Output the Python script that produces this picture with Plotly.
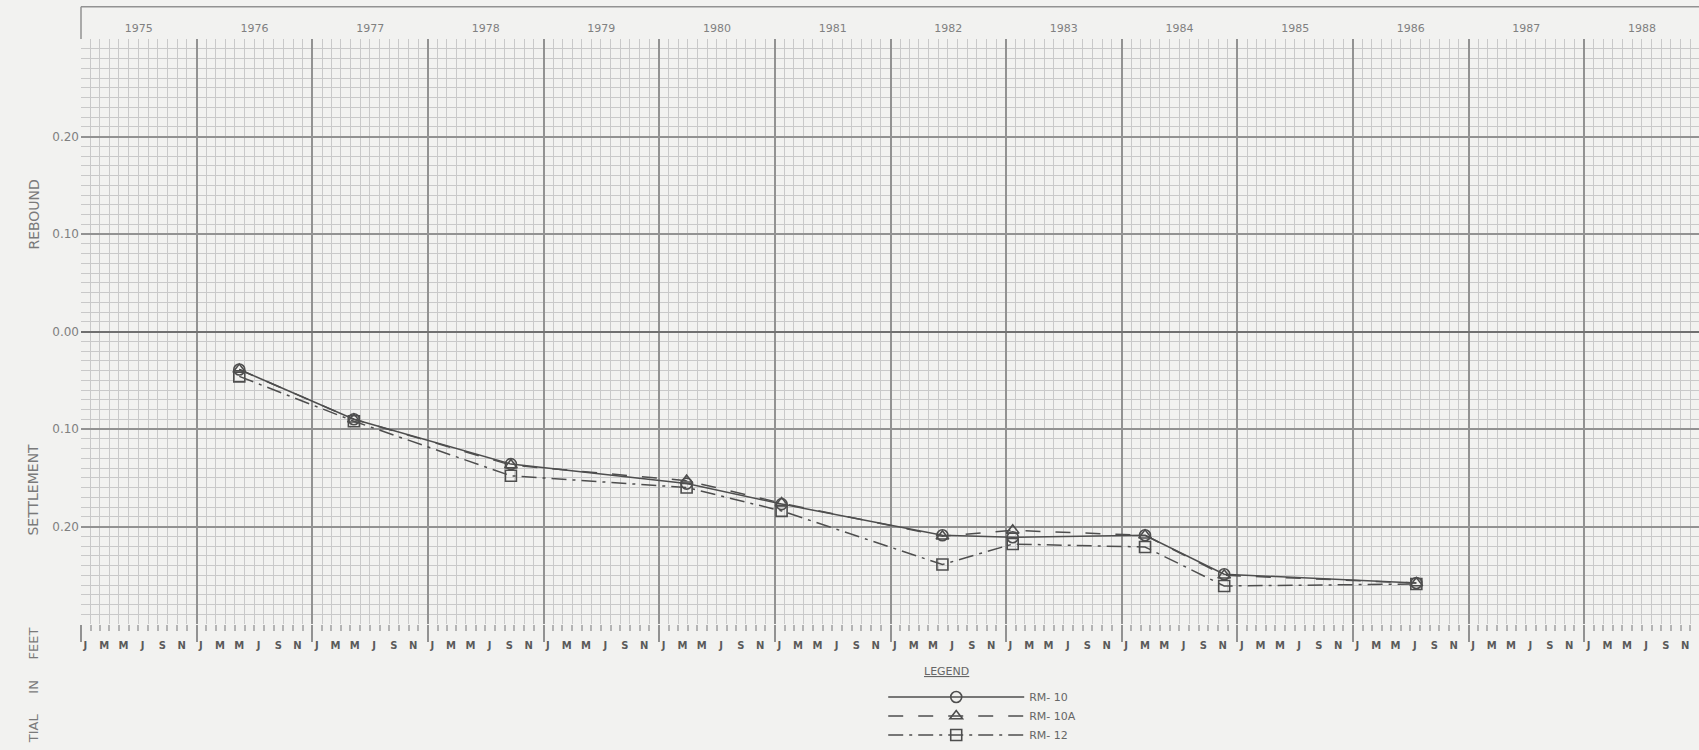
import plotly.graph_objects as go

# ---------------- data ----------------
YEARS = list(range(1975, 1989))
MONTH_LETTERS = ["J", "M", "M", "J", "S", "N"]
MONTH_NUMS = [1, 3, 5, 7, 9, 11]
Y_TICKS = [-0.30, -0.20, -0.10, 0.00, 0.10, 0.20, 0.30]
Y_TICK_TEXT = ["", "0.20", "0.10", "0.00", "0.10", "0.20", ""]

survey_dates = ["1976-05-15", "1977-05-12", "1978-09-20", "1980-03-28", "1981-01-22",
                "1982-06-14", "1983-01-22", "1984-03-15", "1984-11-20", "1986-07-20"]
rm10 = [-0.039, -0.090, -0.136, -0.156, -0.177, -0.209, -0.211, -0.209, -0.249, -0.258]
rm10a = [-0.039, -0.090, -0.137, -0.153, -0.176, -0.210, -0.204, -0.209, -0.250, -0.258]
rm12 = [-0.046, -0.092, -0.148, -0.160, -0.184, -0.239, -0.218, -0.221, -0.261, -0.259]

SERIES = [
    ("RM- 10", rm10, "circle-open", "solid"),
    ("RM- 10A", rm10a, "triangle-up-open", "longdash"),
    ("RM- 12", rm12, "square-open", "longdashdot"),
]

INK = "#4e4e4e"
BG = "#f2f2f0"
MAJOR = "#929292"
MINOR = "#c9c9c9"

fig = go.Figure()
for name, vals, sym, dash in SERIES:
    fig.add_trace(go.Scatter(
        x=survey_dates, y=vals, name=name, mode="lines+markers",
        line=dict(color=INK, width=1.5, dash=dash),
        marker=dict(symbol=sym, size=11, color=INK, line=dict(width=1.6, color=INK)),
    ))

month_vals = [f"{y}-{m:02d}-15" for y in YEARS for m in MONTH_NUMS]
month_text = [MONTH_LETTERS[i % 6] for i in range(len(month_vals))]
year_vals = [f"{y}-01-01" for y in YEARS]

# helper traces so the overlay axes are drawn
fig.add_trace(go.Scatter(x=year_vals, y=[None] * len(year_vals), xaxis="x2",
                         showlegend=False, hoverinfo="skip"))
fig.add_trace(go.Scatter(x=month_vals, y=[None] * len(month_vals), xaxis="x3",
                         showlegend=False, hoverinfo="skip"))

XR = ["1975-01-01", "1989-01-01"]
fig.update_layout(
    width=1700, height=750,
    margin=dict(l=81, r=0, t=39, b=126),
    paper_bgcolor=BG, plot_bgcolor=BG,
    font=dict(family="DejaVu Sans", color="#6e6e6e"),
    xaxis=dict(
        type="date", range=XR, tick0="1975-01-01", dtick="M12",
        showgrid=True, gridcolor=MAJOR, gridwidth=1.5,
        ticks="outside", ticklen=17, tickcolor=MAJOR, tickwidth=1.5,
        showticklabels=False, zeroline=False, showline=False,
        minor=dict(dtick="M1", tick0="1975-01-01", showgrid=True, gridcolor=MINOR,
                   gridwidth=1, ticks="outside", ticklen=6, tickcolor="#b4b4b4"),
    ),
    xaxis2=dict(
        type="date", range=XR, overlaying="x", side="top", anchor="y",
        tick0="1975-01-01", dtick="M12", tickformat="%Y", ticklabelmode="period",
        showgrid=False, ticks="", zeroline=False, ticklabelstandoff=4,
        tickfont=dict(size=11, color="#808080"),
    ),
    xaxis3=dict(
        type="date", range=XR, overlaying="x", side="bottom", anchor="y",
        tickmode="array", tickvals=month_vals, ticktext=month_text,
        showgrid=False, ticks="", zeroline=False, ticklabelstandoff=14,
        tickfont=dict(size=10, color="#5a5a5a", weight="bold"),
    ),
    yaxis=dict(
        range=[-0.30, 0.30], tickmode="array", tickvals=Y_TICKS, ticktext=Y_TICK_TEXT,
        showgrid=True, gridcolor=MAJOR, gridwidth=1.5,
        zeroline=True, zerolinecolor="#707070", zerolinewidth=2,
        ticks="", ticklabelstandoff=1, tickfont=dict(size=12, color="#808080"),
        minor=dict(dtick=0.01, tick0=0, showgrid=True, gridcolor=MINOR, gridwidth=1),
    ),
    legend=dict(
        x=0.4955, y=-0.10, xanchor="left", yanchor="top", orientation="v",
        bgcolor="rgba(0,0,0,0)", itemwidth=136, font=dict(size=11, color="#666666"),
        tracegroupgap=0,
    ),
    showlegend=True,
)

# legend heading
fig.add_annotation(text="<u>LEGEND</u>", xref="paper", yref="paper",
                   x=(946 - 81) / 1619, y=-0.081, showarrow=False,
                   xanchor="center", yanchor="middle", font=dict(size=11, color="#666666"))

# top year band border and left edge
fig.add_shape(type="line", xref="paper", yref="paper", x0=0, x1=1, y0=1.055, y1=1.055,
              line=dict(color=MAJOR, width=1.5))
fig.add_shape(type="line", xref="paper", yref="paper", x0=0, x1=0, y0=1.0, y1=1.055,
              line=dict(color=MAJOR, width=1.5))

# side titles
for text, ypos, anchor in [("REBOUND", 0.70, "middle"), ("SETTLEMENT", 0.23, "middle"),
                           ("TIAL     IN     FEET", -0.002, "top")]:
    fig.add_annotation(text=text, xref="paper", yref="paper", x=-0.0296, y=ypos,
                       textangle=-90, showarrow=False, xanchor="center", yanchor=anchor,
                       font=dict(size=14 if anchor == "middle" else 13, color="#7a7a7a"))

fig.write_html("out.html")
